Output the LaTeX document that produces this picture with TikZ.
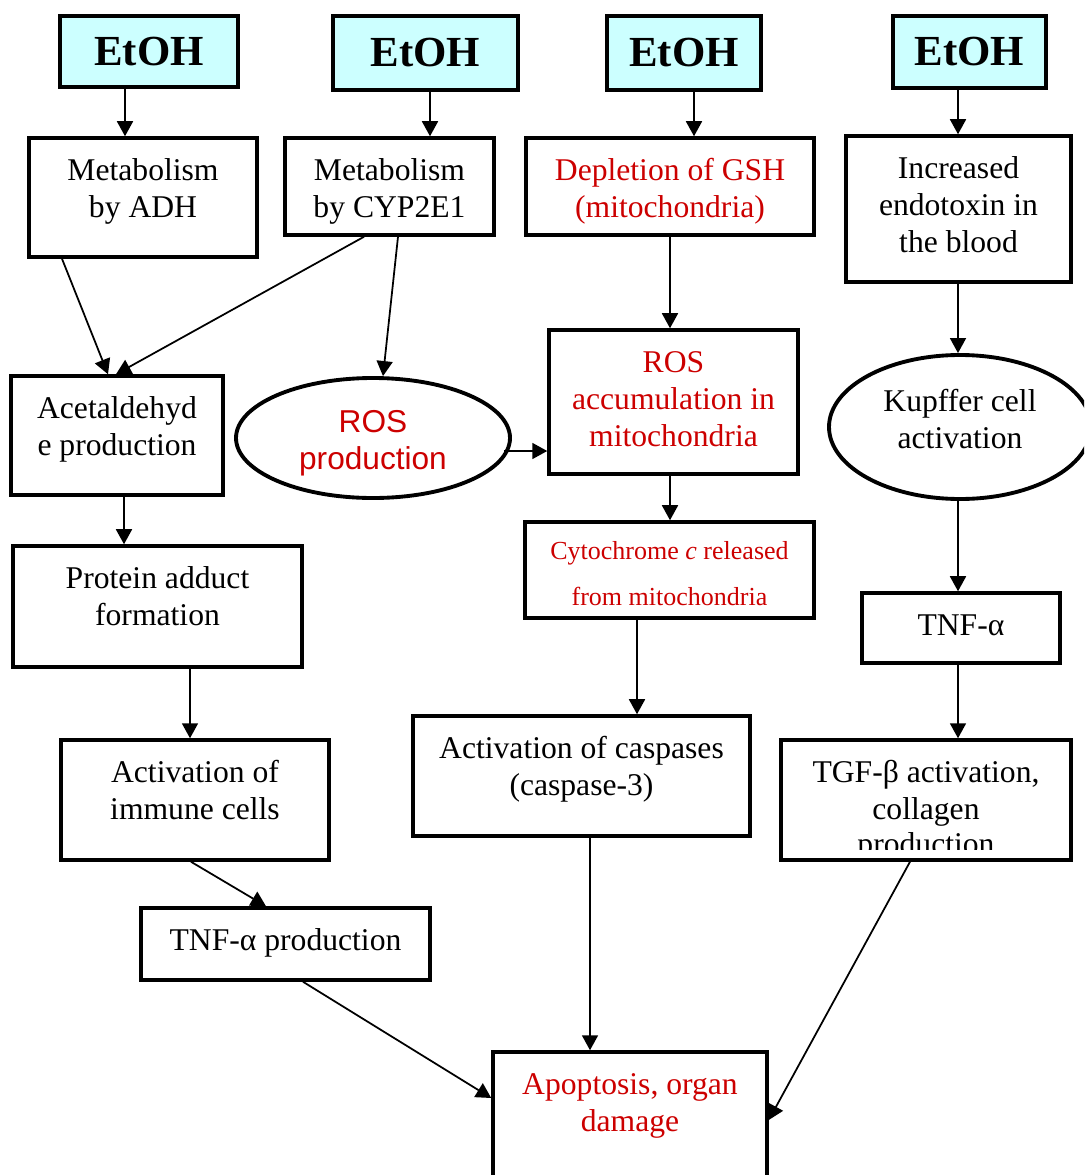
\documentclass[tikz,border=0pt]{standalone}
\usepackage{fontspec}
\setmainfont{Liberation Serif}
\setsansfont{Liberation Sans}
\usetikzlibrary{arrows.meta,shapes.geometric}
\definecolor{etohcyan}{HTML}{CCFFFF}
\definecolor{fxred}{HTML}{CC0000}
\newcommand{\boxtxt}[4][0.17cm]{\parbox[c][#3][t]{#2}{\centering\vspace*{#1}\strut#4}}
\tikzset{
  box/.style={draw, line width=1pt, inner sep=0pt, font=\fontsize{9}{10.5}\selectfont},
  etoh/.style={draw, line width=1.1pt, fill=etohcyan, inner sep=0pt, font=\fontsize{12.2}{14}\selectfont\bfseries},
  oval/.style={draw, ellipse, line width=1.1pt, inner sep=0pt, font=\fontsize{9}{10.5}\selectfont},
  arr/.style={-{Triangle[length=0.15cm,width=0.16cm]}, line width=0.5pt},
}
\begin{document}
\begin{tikzpicture}
    \clip (0,0) rectangle (10.84,-11.75);

    \node[etoh, minimum width=1.78cm, minimum height=0.71cm] (e1) at (1.49,-0.515) {EtOH};
    \node[etoh, minimum width=1.85cm, minimum height=0.74cm] (e2) at (4.255,-0.53) {EtOH};
    \node[etoh, minimum width=1.54cm, minimum height=0.74cm] (e3) at (6.84,-0.53) {EtOH};
    \node[etoh, minimum width=1.53cm, minimum height=0.72cm] (e4) at (9.695,-0.52) {EtOH};

    \node[box] (adh) at (1.43,-1.975) {\boxtxt{2.28cm}{1.19cm}{Metabolism\\by ADH}};
    \node[box] (cyp) at (3.895,-1.865) {\boxtxt{2.09cm}{0.97cm}{Metabolism\\by CYP2E1}};
    \node[box, text=fxred] (gsh) at (6.70,-1.865) {\boxtxt{2.88cm}{0.97cm}{Depletion of GSH\\(mitochondria)}};
    \node[box] (endo) at (9.585,-2.09) {\boxtxt{2.25cm}{1.46cm}{Increased\\endotoxin in\\the blood}};

    \node[box] (acet) at (1.17,-4.355) {\boxtxt{2.12cm}{1.19cm}{Acetaldehyd\\e production}};
    \node[oval, text=fxred, font=\sffamily\fontsize{9}{10.5}\selectfont, minimum width=2.74cm, minimum height=1.20cm] (ros) at (3.73,-4.38) {\boxtxt[0.09cm]{1.8cm}{0.8cm}{ROS\\production}};
    \node[box, text=fxred] (rosacc) at (6.735,-4.02) {\boxtxt{2.49cm}{1.44cm}{ROS\\accumulation in\\mitochondria}};
    \node[oval, minimum width=2.62cm, minimum height=1.44cm] (kupf) at (9.60,-4.27) {\boxtxt[0.04cm]{1.8cm}{0.9cm}{Kupffer cell\\activation}};

    \node[box] (prot) at (1.575,-6.065) {\boxtxt{2.89cm}{1.21cm}{Protein adduct\\formation}};
    \node[box, text=fxred, font=\fontsize{7.4}{13}\selectfont] (cyt) at (6.695,-5.70) {\boxtxt[0.06cm]{2.89cm}{0.96cm}{Cytochrome \textit{c} released\\from mitochondria}};
    \node[box] (tnf) at (9.61,-6.28) {\boxtxt{1.98cm}{0.70cm}{TNF-α}};

    \node[box] (imm) at (1.95,-8.00) {\boxtxt{2.68cm}{1.20cm}{Activation of\\immune cells}};
    \node[box] (casp) at (5.815,-7.76) {\boxtxt{3.37cm}{1.20cm}{Activation of caspases\\(caspase-3)}};
    \node[box] (tgf) at (9.26,-8.00) {\boxtxt{2.90cm}{1.20cm}{TGF-β activation,\\collagen}};
    \begin{scope}
      \clip (tgf.north west) rectangle ([yshift=0.12cm]tgf.south east);
      \node[box, draw=none, anchor=base] (tgfrest) at ([yshift=-1.166cm]tgf.north) {production};
    \end{scope}

    \node[box] (tnfp) at (2.855,-9.44) {\boxtxt{2.89cm}{0.72cm}{TNF-α production}};
    \node[box, text=fxred] (apo) at (6.30,-11.26) {\boxtxt{2.74cm}{1.48cm}{Apoptosis, organ\\damage}};

    \draw[arr] (e1.south -| 1.25,0) -- (adh.north -| 1.25,0);
    \draw[arr] (e2.south -| 4.30,0) -- (cyp.north -| 4.30,0);
    \draw[arr] (e3.south -| 6.94,0) -- (gsh.north -| 6.94,0);
    \draw[arr] (e4.south -| 9.58,0) -- (endo.north -| 9.58,0);

    \draw[arr] (adh.south -| 0.62,0) -- (acet.north -| 1.08,0);
    \draw[arr] (cyp.south -| 3.64,0) -- (acet.north -| 1.16,0);
    \draw[arr] (cyp.south -| 3.98,0) -- (ros.north -| 3.83,0);
    \draw[arr] (gsh.south -| 6.70,0) -- (rosacc.north -| 6.70,0);
    \coordinate (rosout) at ([xshift=-0.08cm,yshift=-0.13cm]ros.east);
    \draw[arr] (rosout) -- (rosout -| rosacc.west);
    \draw[arr] (rosacc.south -| 6.70,0) -- (cyt.north -| 6.70,0);
    \draw[arr] (cyt.south -| 6.37,0) -- (casp.north -| 6.37,0);
    \draw[arr] (endo.south -| 9.58,0) -- (kupf.north -| 9.58,0);
    \draw[arr] (kupf.south -| 9.58,0) -- (tnf.north -| 9.58,0);
    \draw[arr] (tnf.south -| 9.58,0) -- (tgf.north -| 9.58,0);

    \draw[arr] (acet.south -| 1.24,0) -- (prot.north -| 1.24,0);
    \draw[arr] (prot.south -| 1.90,0) -- (imm.north -| 1.90,0);
    \draw[arr] (imm.south -| 1.91,0) -- (tnfp.north -| 2.66,0);
    \draw[arr] (tnfp.south -| 3.03,0) -- (apo.west |- 0,-10.98);
    \draw[arr] (casp.south -| 5.90,0) -- (apo.north -| 5.90,0);
    \draw[arr] (tgf.south -| 9.10,0) -- (apo.east |- 0,-11.20);
  \end{tikzpicture}
\end{document}
